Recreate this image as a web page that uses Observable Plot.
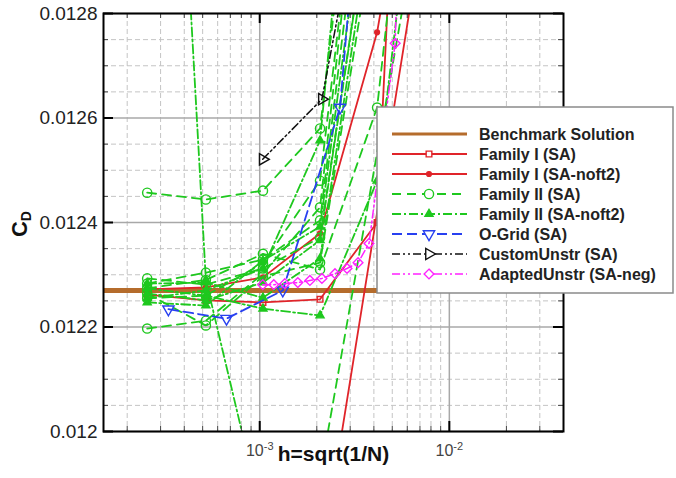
<!DOCTYPE html>
<html><head><meta charset="utf-8">
<script src="https://cdn.jsdelivr.net/npm/d3@7"></script>
<script src="https://cdn.jsdelivr.net/npm/@observablehq/plot@0.6"></script>
<style>
body{margin:0;background:#fff;font-family:"Liberation Sans",Arial,sans-serif;}
#chart{width:676px;height:478px;}
</style></head><body><div id="chart"></div>
<script>
// Drag coefficient C_D against grid spacing h = sqrt(1/N), per grid family.
const benchmark = 0.01227;

const familyI_SA = [
  [[2.55e-4,0.012262],[5.2e-4,0.012251],[1.04e-3,0.012247],[2.08e-3,0.012253],[4.16e-3,0.012400],[5.0e-3,0.01300]]
];
const familyI_SAnoft2 = [
  [[2.55e-4,0.012272],[5.2e-4,0.012276],[1.04e-3,0.012295],[2.08e-3,0.012379],[4.16e-3,0.012764],[8.3e-3,0.01340]],
  [[2.08e-3,0.011738],[7.0e-3,0.01293]]
];
const familyII_SA = [
  [[2.55e-4,0.012457],[5.2e-4,0.012444],[1.04e-3,0.012461],[2.08e-3,0.012580],[4.16e-3,0.01350]],
  [[2.55e-4,0.012197],[5.2e-4,0.012212],[1.04e-3,0.012302],[2.08e-3,0.012429],[4.16e-3,0.01340]],
  [[2.55e-4,0.012283],[5.2e-4,0.012304],[1.04e-3,0.012329],[2.08e-3,0.012404],[4.16e-3,0.01330]],
  [[2.55e-4,0.012264],[5.2e-4,0.012203],[1.04e-3,0.012297],[2.08e-3,0.012323],[4.16e-3,0.01300]],
  [[2.55e-4,0.012255],[5.2e-4,0.012260],[1.04e-3,0.012322],[2.08e-3,0.012480],[4.16e-3,0.01340]],
  [[2.55e-4,0.012293],[5.2e-4,0.012281],[1.04e-3,0.012312],[2.08e-3,0.012371],[4.16e-3,0.01310]],
  [[2.55e-4,0.012274],[5.2e-4,0.012290],[1.04e-3,0.012340],[2.08e-3,0.012310],[4.16e-3,0.012620],[8.3e-3,0.01360]],
  [[2.08e-3,0.011914],[6.2e-3,0.01289]]
];
const familyII_SAnoft2 = [
  [[2.55e-4,0.012274],[5.2e-4,0.012260],[1.04e-3,0.012235],[2.08e-3,0.012222],[4.16e-3,0.012480],[8.3e-3,0.01340]],
  [[2.55e-4,0.012255],[5.2e-4,0.012270],[1.04e-3,0.012312],[2.08e-3,0.012557],[4.16e-3,0.01370]],
  [[2.55e-4,0.012247],[5.2e-4,0.012241],[1.04e-3,0.012327],[2.08e-3,0.012392],[4.16e-3,0.01320]],
  [[2.55e-4,0.012264],[5.2e-4,0.012251],[1.04e-3,0.012285],[2.08e-3,0.012366],[4.16e-3,0.01310]],
  [[2.55e-4,0.012283],[5.2e-4,0.012285],[1.04e-3,0.012256],[2.08e-3,0.012331],[4.16e-3,0.01305]],
  [[2.55e-4,0.01430],[5.2e-4,0.012290],[1.04e-3,0.01183]]
];
const oGrid_SA = [
  [[3.30e-4,0.012234],[6.68e-4,0.012216],[1.323e-3,0.012270],[2.65e-3,0.012620],[5.3e-3,0.01390]]
];
const customUnstr_SA = [
  [[1.037e-3,0.012521],[2.128e-3,0.012636],[4.2e-3,0.01320]]
];
const adaptedUnstr_SAneg = [
  [[1.037e-3,0.012281],[1.186e-3,0.012281],[1.356e-3,0.012283],[1.588e-3,0.012285],[1.839e-3,0.012289],
   [2.128e-3,0.012293],[2.494e-3,0.012302],[2.886e-3,0.012312],[3.30e-3,0.012323],[3.77e-3,0.012360],
   [5.18e-3,0.012743],[5.6e-3,0.01320]]
];

const xMajor = [1e-3, 1e-2];
const xTickExp = ["-3", "-2"];
const yMajor = [0.012, 0.0122, 0.0124, 0.0126, 0.0128];
const yTickLabels = ["0.012", "0.0122", "0.0124", "0.0126", "0.0128"];
const legendLabels = ["Benchmark Solution", "Family I (SA)", "Family I (SA-noft2)", "Family II (SA)",
  "Family II (SA-noft2)", "O-Grid (SA)", "CustomUnstr (SA)", "AdaptedUnstr (SA-neg)"];

const xDomain = [1.5e-4, 4e-2], yDomain = [0.012, 0.0128];
const xMinor = [];
for (const p of [1e-4, 1e-3, 1e-2]) for (let k = 2; k <= 9; k++) {
  const v = k * p; if (v > xDomain[0] && v < xDomain[1]) xMinor.push(v);
}
const yMinor = d3.range(0, 17).map(i => 0.012 + i * 0.00005).filter(v => !yMajor.some(m => Math.abs(m - v) < 1e-9));

// custom marker shapes
const triDown = {draw(ctx, size) {
  const y = -Math.sqrt(size / (Math.sqrt(3) * 3));
  ctx.moveTo(0, -y * 2); ctx.lineTo(-Math.sqrt(3) * y, y); ctx.lineTo(Math.sqrt(3) * y, y); ctx.closePath();
}};
const triRight = {draw(ctx, size) {
  const y = -Math.sqrt(size / (Math.sqrt(3) * 3));
  ctx.moveTo(-y * 2, 0); ctx.lineTo(y, -Math.sqrt(3) * y); ctx.lineTo(y, Math.sqrt(3) * y); ctx.closePath();
}};
const namedSymbols = {square: d3.symbolSquare, circle: d3.symbolCircle, triangle: d3.symbolTriangle, diamond2: d3.symbolDiamond2};

const C = {brown: "#b56c2c", red: "#e0242a", green: "#1ec81e", blue: "#2840f0", black: "#111", magenta: "#ff22ff"};

const styles = [
  {stroke: C.brown, width: 5, dash: null},
  {stroke: C.red, width: 1.8, dash: null, symbol: "square", r: 3.2, fill: "none"},
  {stroke: C.red, width: 1.8, dash: null, symbol: "circle", r: 2.4, fill: C.red},
  {stroke: C.green, width: 1.8, dash: "9,6", symbol: "circle", r: 4.6, fill: "none"},
  {stroke: C.green, width: 1.8, dash: "9,3,2,3", symbol: "triangle", r: 3, fill: C.green},
  {stroke: C.blue, width: 1.8, dash: "10,5", symbol: triDown, r: 4.2, fill: "none"},
  {stroke: C.black, width: 1.5, dash: "8,3,2,3,2,3", symbol: triRight, r: 4.2, fill: "none"},
  {stroke: C.magenta, width: 1.5, dash: "8,3,2,3,2,3", symbol: "diamond2", r: 4.4, fill: "none"}
];

function seriesMarks(list, s) {
  return list.flatMap(pts => [
    Plot.line(pts, {x: d => d[0], y: d => d[1], stroke: s.stroke, strokeWidth: s.width,
      strokeDasharray: s.dash, clip: true}),
    Plot.dot(pts, {x: d => d[0], y: d => d[1], symbol: s.symbol, r: s.r, stroke: s.stroke,
      fill: s.fill, strokeWidth: 1.4, clip: true})
  ]);
}

const W = 676, H = 478, mL = 103, mR = 113, mT = 13, mB = 47;
const innerW = W - mL - mR, innerH = H - mT - mB;

const chart = Plot.plot({
  width: W, height: H, marginLeft: mL, marginRight: mR, marginTop: mT, marginBottom: mB,
  x: {type: "log", domain: xDomain},
  y: {domain: yDomain},
  style: {fontFamily: "'Liberation Sans', Arial, sans-serif", background: "#fff", overflow: "visible"},
  marks: [
    Plot.ruleX(xMinor, {stroke: "#c4c4c4", strokeWidth: 1, strokeDasharray: "5,3"}),
    Plot.ruleY(yMinor, {stroke: "#c4c4c4", strokeWidth: 1, strokeDasharray: "5,3"}),
    Plot.ruleX(xMajor, {stroke: "#a8a8a8", strokeWidth: 1.5}),
    Plot.ruleY(yMajor, {stroke: "#a8a8a8", strokeWidth: 1.5}),
    Plot.ruleY([benchmark], {stroke: C.brown, strokeWidth: 5}),
    ...seriesMarks(familyI_SA, styles[1]),
    ...seriesMarks(familyI_SAnoft2, styles[2]),
    ...seriesMarks(familyII_SA, styles[3]),
    ...seriesMarks(familyII_SAnoft2, styles[4]),
    ...seriesMarks(oGrid_SA, styles[5]),
    ...seriesMarks(customUnstr_SA, styles[6]),
    ...seriesMarks(adaptedUnstr_SAneg, styles[7]),
    // inward tick marks on all four sides
    Plot.ruleX(xMajor, {stroke: "#000", strokeWidth: 2, insetTop: innerH - 10}),
    Plot.ruleX(xMajor, {stroke: "#000", strokeWidth: 2, insetBottom: innerH - 10}),
    Plot.ruleX(xMinor, {stroke: "#444", strokeWidth: 1, insetTop: innerH - 5}),
    Plot.ruleX(xMinor, {stroke: "#444", strokeWidth: 1, insetBottom: innerH - 5}),
    Plot.ruleY(yMajor, {stroke: "#000", strokeWidth: 2, insetRight: innerW - 10}),
    Plot.ruleY(yMajor, {stroke: "#000", strokeWidth: 2, insetLeft: innerW - 10}),
    Plot.ruleY(yMinor, {stroke: "#444", strokeWidth: 1, insetRight: innerW - 5}),
    Plot.ruleY(yMinor, {stroke: "#444", strokeWidth: 1, insetLeft: innerW - 5}),
    Plot.frame({stroke: "#000", strokeWidth: 2}),
    Plot.axisY({ticks: yMajor, tickSize: 0, tickPadding: 6, label: null, fontSize: 19, fill: "#222",
      tickFormat: d => yTickLabels[yMajor.findIndex(v => Math.abs(v - d) < 1e-9)]}),
    Plot.axisX({ticks: xMajor, tickSize: 0, tickPadding: 13, label: null, fontSize: 16, fill: "#444",
      tickFormat: () => "10"}),
    Plot.text(["h=sqrt(1/N)"], {frameAnchor: "bottom", dy: 23, lineAnchor: "middle", fontSize: 21,
      fontWeight: "bold", fill: "#111"})
  ]
});
document.getElementById("chart").appendChild(chart);

const svg = d3.select(chart);

// exponent superscripts on the x tick labels
svg.selectAll('g[aria-label="x-axis tick label"] text').each(function(d, i) {
  d3.select(this).append("tspan").attr("dy", "-0.55em").attr("font-size", 11).text(xTickExp[i]);
});

// y-axis title C_D
const yt = svg.append("text").attr("transform", "translate(27,224) rotate(-90)")
  .attr("text-anchor", "middle").attr("font-size", 22).attr("font-weight", "bold").attr("fill", "#111");
yt.append("tspan").text("C");
yt.append("tspan").attr("dy", "0.3em").attr("font-size", 14).text("D");

// legend box
const lg = svg.append("g").attr("text-anchor", "start");
lg.append("rect").attr("x", 377).attr("y", 107).attr("width", 296).attr("height", 186)
  .attr("fill", "#fff").attr("stroke", "#8a8a8a").attr("stroke-width", 1.5);
legendLabels.forEach((label, i) => {
  const s = styles[i], y = 134 + 20 * i;
  lg.append("line").attr("x1", 392).attr("x2", 467).attr("y1", y).attr("y2", y)
    .attr("stroke", s.stroke).attr("stroke-width", i === 0 ? 3 : s.width)
    .attr("stroke-dasharray", s.dash);
  if (s.symbol) {
    const sym = typeof s.symbol === "string" ? namedSymbols[s.symbol] : s.symbol;
    lg.append("path").attr("transform", `translate(429,${y})`)
      .attr("d", d3.symbol(sym, Math.PI * s.r * s.r)())
      .attr("fill", s.fill === "none" ? "#fff" : s.fill).attr("stroke", s.stroke).attr("stroke-width", 1.4);
  }
  lg.append("text").attr("x", 479).attr("y", y + 6).attr("font-size", 16).attr("font-weight", "bold")
    .attr("text-anchor", "start").attr("fill", "#222").text(label);
});
</script></body></html>
